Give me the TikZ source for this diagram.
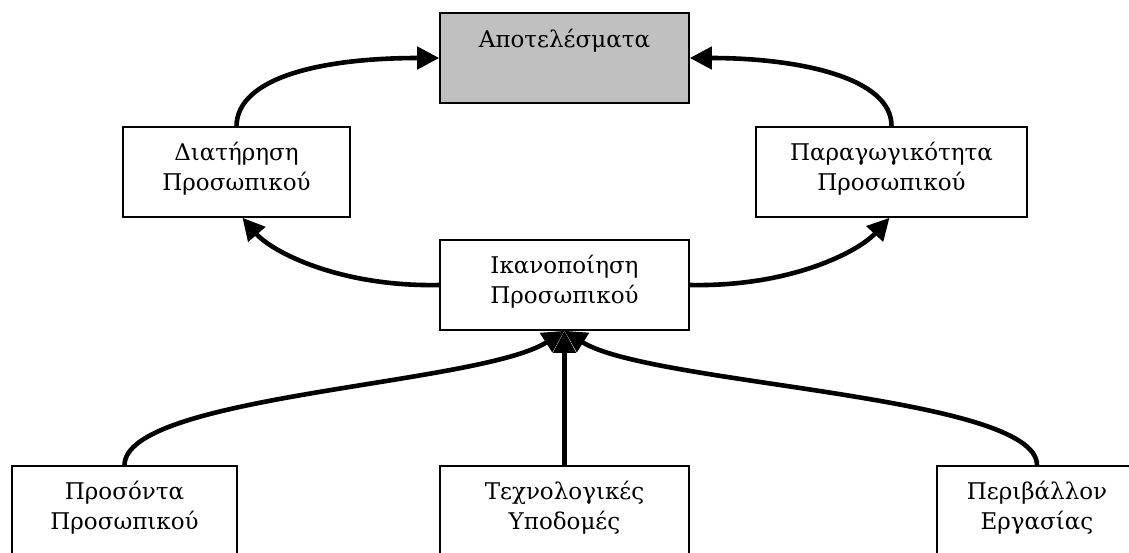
\documentclass[tikz,border=0pt]{standalone}
\usepackage{fontspec}
\setmainfont{DejaVu Serif}
\usetikzlibrary{arrows.meta}
\begin{document}
\begin{tikzpicture}[x=0.5pt,y=-0.5pt,
  box/.style={draw=black, line width=0.8pt, inner sep=0pt, minimum height=45pt},
  lbl/.style={align=center, font=\fontsize{11.5}{15}\selectfont, inner sep=0pt},
  conn/.style={line width=2.3pt, -{Triangle[length=11pt,width=11pt]}}
]
\useasboundingbox (0,0) rectangle (1129,552);
\clip (0,0) rectangle (1129,552);

% boxes
\node[box, fill={rgb,255:red,192;green,192;blue,192}, minimum width=124.5pt] (A) at (564.5,58) {};
\node[box, minimum width=113.5pt] (D) at (236.5,172) {};
\node[box, minimum width=135.5pt] (P) at (891.5,172) {};
\node[box, minimum width=124.5pt] (I) at (564.5,285) {};
\node[box, minimum width=112.5pt] (Q) at (124.5,511) {};
\node[box, minimum width=124.5pt] (T) at (564.5,511) {};
\node[box, minimum width=100pt]   (E) at (1037,511) {};

% labels
\node[lbl] (At) at (564.5,41) {Αποτελέσματα};
\node[lbl] (Dt) at (236.5,169) {Διατήρηση\\Προσωπικού};
\node[lbl] (Pt) at (891.5,169) {Παραγωγικότητα\\Προσωπικού};
\node[lbl] (It) at (564.5,282) {Ικανοποίηση\\Προσωπικού};
\node[lbl] (Qt) at (124.5,508) {Προσόντα\\Προσωπικού};
\node[lbl] (Tt) at (564.5,508) {Τεχνολογικές\\Υποδομές};
\node[lbl] (Et) at (1037,508) {Περιβάλλον\\Εργασίας};

% connectors
\draw[conn] (D.north) .. controls (237,78) and (320,58) .. (A.west);
\draw[conn] (P.north) .. controls (892,78) and (800,58) .. (A.east);
\draw[conn] (I.west) .. controls (340,287) and (272,252) .. ([xshift=3pt]D.south);
\draw[conn] (I.east) .. controls (790,287) and (858,252) .. ([xshift=-1pt]P.south);
\draw[conn] (Q.north) .. controls (125,395) and (480,385) .. (I.south);
\draw[conn] (T.north) -- (I.south);
\draw[conn] (E.north) .. controls (1037,395) and (650,385) .. (I.south);
\end{tikzpicture}
\end{document}
